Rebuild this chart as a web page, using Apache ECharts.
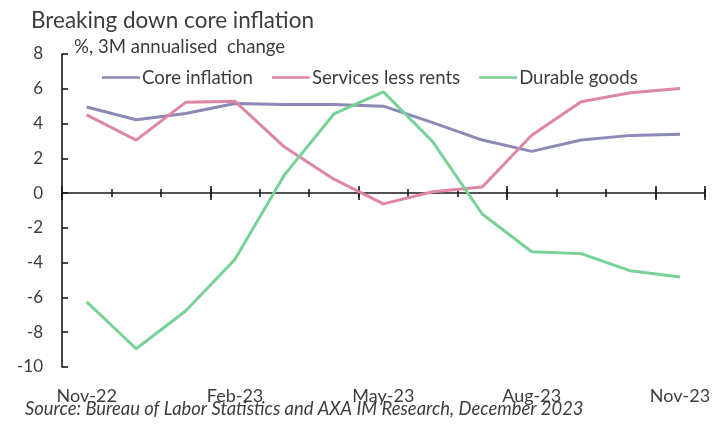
<!DOCTYPE html>
<html>
<head>
<meta charset="utf-8">
<script src="https://cdn.jsdelivr.net/npm/echarts@6/dist/echarts.min.js"></script>
<style>
  html, body { margin: 0; padding: 0; background: #ffffff; }
  #chart { width: 713px; height: 425px; }
</style>
</head>
<body>
<div id="chart"></div>
<script>
// Monthly categories, Nov-22 .. Nov-23
const months = ['Nov-22', 'Dec-22', 'Jan-23', 'Feb-23', 'Mar-23', 'Apr-23', 'May-23',
                'Jun-23', 'Jul-23', 'Aug-23', 'Sep-23', 'Oct-23', 'Nov-23'];

// %, 3M annualised change
const coreInflation     = [4.95, 4.22, 4.58, 5.15, 5.10, 5.10, 5.00, 4.05, 3.05, 2.40, 3.05, 3.32, 3.38];
const servicesLessRents = [4.50, 3.05, 5.22, 5.28, 2.65, 0.80, -0.62, 0.08, 0.35, 3.33, 5.25, 5.77, 6.02];
const durableGoods      = [-6.25, -8.95, -6.78, -3.80, 1.05, 4.55, 5.82, 2.95, -1.20, -3.37, -3.48, -4.47, -4.82];

const seriesNames = ['Core inflation', 'Services less rents', 'Durable goods'];
const seriesColors = ['#8b89b6', '#de86a6', '#78d197'];

const yMin = -10, yMax = 8, yStep = 2;

const FONT = 'Lato, "Open Sans", sans-serif';
const TEXT = '#3d3d3d';
const AXIS = '#1a1a1a';

const chart = echarts.init(document.getElementById('chart'), null, { renderer: 'canvas' });

// Axes lying on the zero line: ticks drawn above and below the line,
// longer ones every third month.
function zeroAxis(tickInside, tickLen, tickInterval, showLine) {
  return {
    type: 'category',
    data: months,
    position: 'bottom',
    boundaryGap: true,
    axisLine: { show: showLine, onZero: true, onZeroAxisIndex: 0,
                lineStyle: { color: AXIS, width: 1.6 } },
    axisTick: { show: true, inside: tickInside, length: tickLen, interval: tickInterval,
                alignWithLabel: false, lineStyle: { color: AXIS, width: 1.6 } },
    axisLabel: { show: false },
    splitLine: { show: false }
  };
}

const option = {
  backgroundColor: '#ffffff',
  animation: false,
  textStyle: { fontFamily: FONT },
  title: {
    text: 'Breaking down core inflation',
    left: 26, top: 4,
    textStyle: { fontFamily: FONT, fontSize: 22.5, fontWeight: 'normal', color: TEXT }
  },
  legend: {
    data: seriesNames,
    left: 97, top: 63,
    itemWidth: 38, itemHeight: 10, itemGap: 19,
    icon: 'path://M0,4 L38,4 L38,6.5 L0,6.5 Z',
    textStyle: { fontFamily: FONT, fontSize: 18.6, color: TEXT, padding: [0, 0, 0, -3] }
  },
  grid: { left: 62, right: 5, top: 54, bottom: 58, containLabel: false },
  xAxis: [
    zeroAxis(false, 4, 0, true),
    zeroAxis(true, 4, 0, false),
    zeroAxis(false, 7, 2, false),
    zeroAxis(true, 7, 2, false),
    {
      type: 'category',
      data: months,
      position: 'bottom',
      boundaryGap: true,
      axisLine: { show: false, onZero: false },
      axisTick: { show: false },
      axisLabel: { show: true, interval: 2, margin: 20, fontFamily: FONT, fontSize: 18, color: TEXT }
    }
  ],
  yAxis: {
    type: 'value',
    min: yMin, max: yMax, interval: yStep,
    axisLine: { show: true, lineStyle: { color: AXIS, width: 1.6 } },
    axisTick: { show: true, inside: true, length: 6, lineStyle: { color: AXIS, width: 1.6 } },
    axisLabel: { margin: 19, fontFamily: FONT, fontSize: 17, color: TEXT },
    splitLine: { show: false }
  },
  graphic: [
    {
      type: 'text', left: 74, top: 37,
      style: { text: '%, 3M annualised  change', font: '18.6px ' + FONT, fill: TEXT }
    },
    {
      type: 'text', left: 25, top: 400,
      style: { text: 'Source: Bureau of Labor Statistics and AXA IM Research, December 2023',
               font: 'italic 18.4px ' + FONT, fill: TEXT }
    }
  ],
  series: [coreInflation, servicesLessRents, durableGoods].map((values, i) => ({
    name: seriesNames[i],
    type: 'line',
    xAxisIndex: 4,
    data: values,
    symbol: 'none',
    smooth: false,
    lineStyle: { color: seriesColors[i], width: 3 },
    itemStyle: { color: seriesColors[i] },
    z: 3 + i
  }))
};

chart.setOption(option);
</script>
</body>
</html>
